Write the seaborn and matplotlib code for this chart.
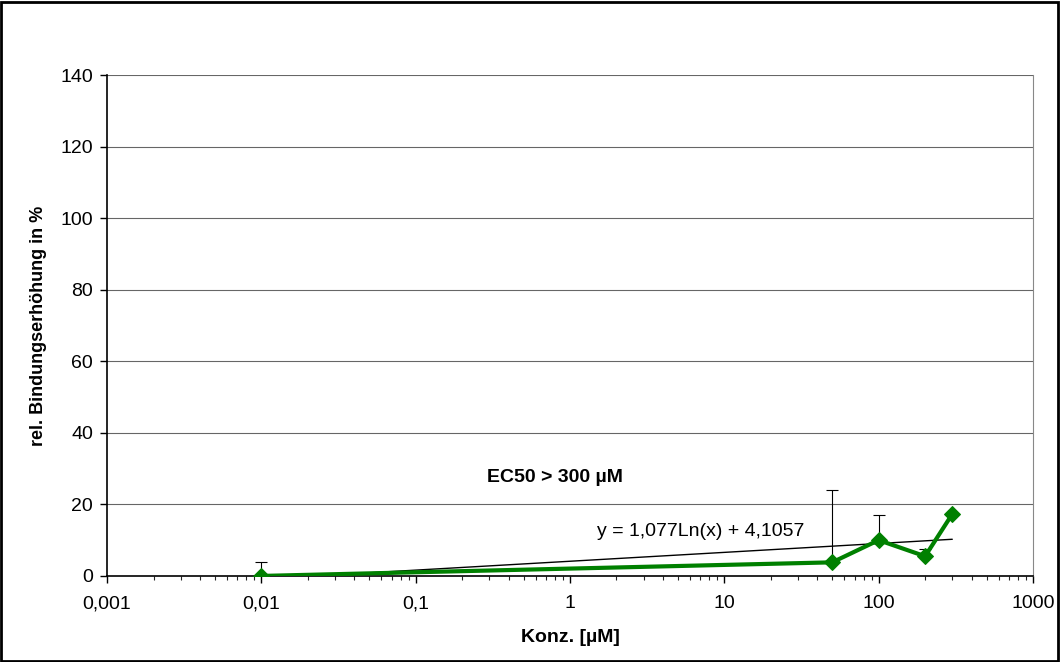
import numpy as np
import pandas as pd
import matplotlib
matplotlib.use("Agg")
import matplotlib.pyplot as plt
import matplotlib.ticker as mticker
from matplotlib.patches import Rectangle
import seaborn as sns

konz = [0.01, 50, 100, 200, 300]
bindung = [0.0, 3.8, 10.0, 5.5, 17.3]
fehler_oben = [4.0, 20.2, 7.0, 2.0, 0.0]

x_ticks = [0.001, 0.01, 0.1, 1, 10, 100, 1000]
x_labels = ["0,001", "0,01", "0,1", "1", "10", "100", "1000"]

# Trendlinie aus der Excel-Formel
trend_a = 1.077
trend_b = 4.1057

df = pd.DataFrame({"Konz": konz, "Bindung": bindung})

sns.set_style("white")
plt.rcParams["font.family"] = ["Liberation Sans", "DejaVu Sans"]
plt.rcParams["text.color"] = "black"
plt.rcParams["axes.labelcolor"] = "black"

fig = plt.figure(figsize=(10.6, 6.62), dpi=100)
ax = fig.add_axes([0.101, 0.13, 0.8735, 0.7567])

# Rahmen um die ganze Grafik
fig.patches.append(Rectangle((0.001, 0.001), 0.997, 0.996, transform=fig.transFigure,
                             fill=False, edgecolor="black", linewidth=2))

for yg in range(20, 141, 20):
    ax.axhline(yg, color="#000000", linewidth=0.8, alpha=0.6, zorder=0)

xt = np.logspace(np.log10(konz[0]), np.log10(konz[-1]), 200)
ax.plot(xt, trend_a * np.log(xt) + trend_b, color="black", linewidth=1, zorder=2)

ax.errorbar(konz, bindung, yerr=[np.zeros(len(fehler_oben)), fehler_oben], fmt="none",
            ecolor="black", elinewidth=0.8, capsize=4, capthick=0.8, zorder=1)

sns.lineplot(data=df, x="Konz", y="Bindung", ax=ax, color="#008000", linewidth=3,
             marker="D", markersize=8, markeredgecolor="#008000", zorder=3)

ax.set_xscale("log")
ax.set_xlim(0.001, 1000)
ax.set_ylim(0, 140)
ax.set_yticks(range(0, 141, 20))
ax.set_xticks(x_ticks)
ax.set_xticklabels(x_labels)
ax.xaxis.set_minor_locator(mticker.LogLocator(base=10, subs=np.arange(2, 10), numticks=20))
ax.xaxis.set_minor_formatter(mticker.NullFormatter())

ax.tick_params(axis="both", which="major", direction="out", length=5, width=1,
               labelsize=14, colors="black", bottom=True, left=True, pad=5)
ax.tick_params(axis="x", which="minor", direction="out", length=3, width=0.8, bottom=True)
ax.tick_params(axis="x", which="major", pad=9)

for s in ["left", "bottom"]:
    ax.spines[s].set_color("black")
    ax.spines[s].set_linewidth(1.2)
ax.spines["right"].set_color("#888888")
ax.spines["top"].set_visible(False)

ax.set_xlabel("Konz. [µM]", fontsize=14, fontweight="bold", labelpad=12)
ax.set_ylabel("rel. Bindungserhöhung in %", fontsize=13, fontweight="bold", labelpad=10)

ax.text(0.8, 27.5, "EC50 > 300 µM", fontsize=14, fontweight="bold", ha="center", va="center")
ax.text(1.5, 12.5, "y = 1,077Ln(x) + 4,1057", fontsize=14, ha="left", va="center")

fig.savefig("out.png", dpi=100)
